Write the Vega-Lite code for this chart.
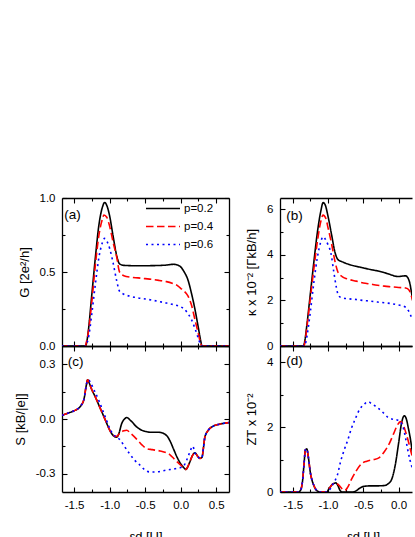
{
"$schema":"https://vega.github.io/schema/vega-lite/v6.json",
"background":"white",
"padding":{"top":192,"left":14,"right":0,"bottom":0},
"autosize":{"type":"pad"},
"datasets":{
"G":[
{"x":-1.67,"v":0,"p":"p=0.2"},{"x":-1.34,"v":0,"p":"p=0.2"},{"x":-1.32,"v":0.03,"p":"p=0.2"},{"x":-1.3,"v":0.1,"p":"p=0.2"},{"x":-1.25,"v":0.35,"p":"p=0.2"},{"x":-1.2,"v":0.6,"p":"p=0.2"},{"x":-1.15,"v":0.82,"p":"p=0.2"},{"x":-1.1,"v":0.94,"p":"p=0.2"},{"x":-1.07,"v":0.97,"p":"p=0.2"},{"x":-1.04,"v":0.95,"p":"p=0.2"},{"x":-1.0,"v":0.88,"p":"p=0.2"},{"x":-0.95,"v":0.74,"p":"p=0.2"},{"x":-0.9,"v":0.61,"p":"p=0.2"},{"x":-0.86,"v":0.555,"p":"p=0.2"},{"x":-0.8,"v":0.545,"p":"p=0.2"},{"x":-0.6,"v":0.542,"p":"p=0.2"},{"x":-0.4,"v":0.543,"p":"p=0.2"},{"x":-0.2,"v":0.547,"p":"p=0.2"},{"x":-0.1,"v":0.552,"p":"p=0.2"},{"x":-0.05,"v":0.548,"p":"p=0.2"},{"x":0,"v":0.535,"p":"p=0.2"},{"x":0.05,"v":0.5,"p":"p=0.2"},{"x":0.1,"v":0.45,"p":"p=0.2"},{"x":0.15,"v":0.36,"p":"p=0.2"},{"x":0.2,"v":0.25,"p":"p=0.2"},{"x":0.25,"v":0.12,"p":"p=0.2"},{"x":0.28,"v":0.04,"p":"p=0.2"},{"x":0.3,"v":0,"p":"p=0.2"},{"x":0.68,"v":0,"p":"p=0.2"},
{"x":-1.67,"v":0,"p":"p=0.4"},{"x":-1.34,"v":0,"p":"p=0.4"},{"x":-1.33,"v":0.02,"p":"p=0.4"},{"x":-1.3,"v":0.09,"p":"p=0.4"},{"x":-1.25,"v":0.3,"p":"p=0.4"},{"x":-1.2,"v":0.55,"p":"p=0.4"},{"x":-1.15,"v":0.75,"p":"p=0.4"},{"x":-1.1,"v":0.86,"p":"p=0.4"},{"x":-1.08,"v":0.885,"p":"p=0.4"},{"x":-1.04,"v":0.87,"p":"p=0.4"},{"x":-1.0,"v":0.81,"p":"p=0.4"},{"x":-0.95,"v":0.7,"p":"p=0.4"},{"x":-0.9,"v":0.6,"p":"p=0.4"},{"x":-0.86,"v":0.5,"p":"p=0.4"},{"x":-0.8,"v":0.475,"p":"p=0.4"},{"x":-0.7,"v":0.465,"p":"p=0.4"},{"x":-0.6,"v":0.46,"p":"p=0.4"},{"x":-0.5,"v":0.455,"p":"p=0.4"},{"x":-0.4,"v":0.45,"p":"p=0.4"},{"x":-0.3,"v":0.443,"p":"p=0.4"},{"x":-0.2,"v":0.435,"p":"p=0.4"},{"x":-0.1,"v":0.42,"p":"p=0.4"},{"x":-0.05,"v":0.41,"p":"p=0.4"},{"x":0,"v":0.39,"p":"p=0.4"},{"x":0.05,"v":0.37,"p":"p=0.4"},{"x":0.1,"v":0.34,"p":"p=0.4"},{"x":0.15,"v":0.28,"p":"p=0.4"},{"x":0.2,"v":0.18,"p":"p=0.4"},{"x":0.25,"v":0.08,"p":"p=0.4"},{"x":0.28,"v":0.02,"p":"p=0.4"},{"x":0.3,"v":0,"p":"p=0.4"},{"x":0.68,"v":0,"p":"p=0.4"},
{"x":-1.67,"v":0,"p":"p=0.6"},{"x":-1.34,"v":0,"p":"p=0.6"},{"x":-1.33,"v":0.01,"p":"p=0.6"},{"x":-1.3,"v":0.05,"p":"p=0.6"},{"x":-1.25,"v":0.22,"p":"p=0.6"},{"x":-1.2,"v":0.42,"p":"p=0.6"},{"x":-1.15,"v":0.6,"p":"p=0.6"},{"x":-1.1,"v":0.7,"p":"p=0.6"},{"x":-1.07,"v":0.727,"p":"p=0.6"},{"x":-1.03,"v":0.7,"p":"p=0.6"},{"x":-1.0,"v":0.66,"p":"p=0.6"},{"x":-0.95,"v":0.56,"p":"p=0.6"},{"x":-0.9,"v":0.44,"p":"p=0.6"},{"x":-0.86,"v":0.37,"p":"p=0.6"},{"x":-0.8,"v":0.35,"p":"p=0.6"},{"x":-0.7,"v":0.335,"p":"p=0.6"},{"x":-0.6,"v":0.325,"p":"p=0.6"},{"x":-0.5,"v":0.318,"p":"p=0.6"},{"x":-0.4,"v":0.31,"p":"p=0.6"},{"x":-0.3,"v":0.3,"p":"p=0.6"},{"x":-0.2,"v":0.29,"p":"p=0.6"},{"x":-0.1,"v":0.28,"p":"p=0.6"},{"x":0,"v":0.265,"p":"p=0.6"},{"x":0.05,"v":0.25,"p":"p=0.6"},{"x":0.1,"v":0.22,"p":"p=0.6"},{"x":0.15,"v":0.18,"p":"p=0.6"},{"x":0.2,"v":0.12,"p":"p=0.6"},{"x":0.25,"v":0.05,"p":"p=0.6"},{"x":0.28,"v":0.01,"p":"p=0.6"},{"x":0.3,"v":0,"p":"p=0.6"},{"x":0.68,"v":0,"p":"p=0.6"}
],
"K":[
{"x":-1.68,"v":0,"p":"p=0.2"},{"x":-1.35,"v":0,"p":"p=0.2"},{"x":-1.33,"v":0.2,"p":"p=0.2"},{"x":-1.3,"v":0.9,"p":"p=0.2"},{"x":-1.25,"v":2.3,"p":"p=0.2"},{"x":-1.2,"v":3.7,"p":"p=0.2"},{"x":-1.15,"v":5.0,"p":"p=0.2"},{"x":-1.1,"v":5.95,"p":"p=0.2"},{"x":-1.07,"v":6.3,"p":"p=0.2"},{"x":-1.04,"v":6.2,"p":"p=0.2"},{"x":-1.0,"v":5.7,"p":"p=0.2"},{"x":-0.95,"v":4.9,"p":"p=0.2"},{"x":-0.9,"v":4.1,"p":"p=0.2"},{"x":-0.86,"v":3.8,"p":"p=0.2"},{"x":-0.8,"v":3.7,"p":"p=0.2"},{"x":-0.7,"v":3.58,"p":"p=0.2"},{"x":-0.6,"v":3.5,"p":"p=0.2"},{"x":-0.5,"v":3.43,"p":"p=0.2"},{"x":-0.4,"v":3.36,"p":"p=0.2"},{"x":-0.3,"v":3.3,"p":"p=0.2"},{"x":-0.2,"v":3.22,"p":"p=0.2"},{"x":-0.1,"v":3.12,"p":"p=0.2"},{"x":-0.05,"v":3.07,"p":"p=0.2"},{"x":0,"v":3.05,"p":"p=0.2"},{"x":0.05,"v":3.07,"p":"p=0.2"},{"x":0.1,"v":3.08,"p":"p=0.2"},{"x":0.13,"v":3.0,"p":"p=0.2"},{"x":0.16,"v":2.75,"p":"p=0.2"},{"x":0.18,"v":2.4,"p":"p=0.2"},{"x":0.2,"v":2.0,"p":"p=0.2"},{"x":0.22,"v":1.6,"p":"p=0.2"},
{"x":-1.68,"v":0,"p":"p=0.4"},{"x":-1.35,"v":0,"p":"p=0.4"},{"x":-1.33,"v":0.1,"p":"p=0.4"},{"x":-1.3,"v":0.8,"p":"p=0.4"},{"x":-1.25,"v":2.1,"p":"p=0.4"},{"x":-1.2,"v":3.4,"p":"p=0.4"},{"x":-1.15,"v":4.6,"p":"p=0.4"},{"x":-1.1,"v":5.5,"p":"p=0.4"},{"x":-1.07,"v":5.75,"p":"p=0.4"},{"x":-1.03,"v":5.6,"p":"p=0.4"},{"x":-1.0,"v":5.2,"p":"p=0.4"},{"x":-0.95,"v":4.5,"p":"p=0.4"},{"x":-0.9,"v":3.7,"p":"p=0.4"},{"x":-0.86,"v":3.25,"p":"p=0.4"},{"x":-0.8,"v":3.05,"p":"p=0.4"},{"x":-0.73,"v":2.95,"p":"p=0.4"},{"x":-0.6,"v":2.85,"p":"p=0.4"},{"x":-0.5,"v":2.77,"p":"p=0.4"},{"x":-0.4,"v":2.72,"p":"p=0.4"},{"x":-0.3,"v":2.67,"p":"p=0.4"},{"x":-0.2,"v":2.63,"p":"p=0.4"},{"x":-0.1,"v":2.6,"p":"p=0.4"},{"x":0,"v":2.57,"p":"p=0.4"},{"x":0.1,"v":2.55,"p":"p=0.4"},{"x":0.15,"v":2.45,"p":"p=0.4"},{"x":0.18,"v":2.2,"p":"p=0.4"},{"x":0.2,"v":2.0,"p":"p=0.4"},{"x":0.22,"v":1.7,"p":"p=0.4"},
{"x":-1.68,"v":0,"p":"p=0.6"},{"x":-1.34,"v":0,"p":"p=0.6"},{"x":-1.32,"v":0.1,"p":"p=0.6"},{"x":-1.28,"v":0.8,"p":"p=0.6"},{"x":-1.25,"v":1.5,"p":"p=0.6"},{"x":-1.2,"v":2.8,"p":"p=0.6"},{"x":-1.15,"v":3.9,"p":"p=0.6"},{"x":-1.1,"v":4.6,"p":"p=0.6"},{"x":-1.07,"v":4.8,"p":"p=0.6"},{"x":-1.03,"v":4.65,"p":"p=0.6"},{"x":-1.0,"v":4.45,"p":"p=0.6"},{"x":-0.96,"v":4.1,"p":"p=0.6"},{"x":-0.92,"v":3.3,"p":"p=0.6"},{"x":-0.88,"v":2.55,"p":"p=0.6"},{"x":-0.85,"v":2.2,"p":"p=0.6"},{"x":-0.8,"v":2.12,"p":"p=0.6"},{"x":-0.7,"v":2.07,"p":"p=0.6"},{"x":-0.6,"v":2.04,"p":"p=0.6"},{"x":-0.5,"v":2.0,"p":"p=0.6"},{"x":-0.4,"v":1.97,"p":"p=0.6"},{"x":-0.3,"v":1.93,"p":"p=0.6"},{"x":-0.2,"v":1.9,"p":"p=0.6"},{"x":-0.1,"v":1.86,"p":"p=0.6"},{"x":0,"v":1.8,"p":"p=0.6"},{"x":0.06,"v":1.76,"p":"p=0.6"},{"x":0.1,"v":1.7,"p":"p=0.6"},{"x":0.14,"v":1.55,"p":"p=0.6"},{"x":0.17,"v":1.35,"p":"p=0.6"},{"x":0.2,"v":1.15,"p":"p=0.6"},{"x":0.22,"v":1.0,"p":"p=0.6"}
],
"S":[
{"x":-1.67,"v":0.02,"p":"p=0.2"},{"x":-1.6,"v":0.03,"p":"p=0.2"},{"x":-1.5,"v":0.045,"p":"p=0.2"},{"x":-1.45,"v":0.055,"p":"p=0.2"},{"x":-1.4,"v":0.075,"p":"p=0.2"},{"x":-1.36,"v":0.11,"p":"p=0.2"},{"x":-1.33,"v":0.18,"p":"p=0.2"},{"x":-1.31,"v":0.215,"p":"p=0.2"},{"x":-1.29,"v":0.2,"p":"p=0.2"},{"x":-1.25,"v":0.16,"p":"p=0.2"},{"x":-1.2,"v":0.12,"p":"p=0.2"},{"x":-1.15,"v":0.075,"p":"p=0.2"},{"x":-1.1,"v":0.03,"p":"p=0.2"},{"x":-1.05,"v":-0.015,"p":"p=0.2"},{"x":-1.0,"v":-0.06,"p":"p=0.2"},{"x":-0.95,"v":-0.09,"p":"p=0.2"},{"x":-0.9,"v":-0.1,"p":"p=0.2"},{"x":-0.87,"v":-0.08,"p":"p=0.2"},{"x":-0.83,"v":-0.025,"p":"p=0.2"},{"x":-0.79,"v":0.0,"p":"p=0.2"},{"x":-0.76,"v":0.008,"p":"p=0.2"},{"x":-0.7,"v":-0.01,"p":"p=0.2"},{"x":-0.62,"v":-0.043,"p":"p=0.2"},{"x":-0.5,"v":-0.068,"p":"p=0.2"},{"x":-0.4,"v":-0.073,"p":"p=0.2"},{"x":-0.3,"v":-0.073,"p":"p=0.2"},{"x":-0.2,"v":-0.09,"p":"p=0.2"},{"x":-0.15,"v":-0.12,"p":"p=0.2"},{"x":-0.1,"v":-0.165,"p":"p=0.2"},{"x":-0.05,"v":-0.21,"p":"p=0.2"},{"x":0,"v":-0.245,"p":"p=0.2"},{"x":0.04,"v":-0.265,"p":"p=0.2"},{"x":0.075,"v":-0.276,"p":"p=0.2"},{"x":0.1,"v":-0.262,"p":"p=0.2"},{"x":0.13,"v":-0.234,"p":"p=0.2"},{"x":0.17,"v":-0.197,"p":"p=0.2"},{"x":0.2,"v":-0.185,"p":"p=0.2"},{"x":0.24,"v":-0.205,"p":"p=0.2"},{"x":0.27,"v":-0.216,"p":"p=0.2"},{"x":0.3,"v":-0.21,"p":"p=0.2"},{"x":0.32,"v":-0.16,"p":"p=0.2"},{"x":0.34,"v":-0.1,"p":"p=0.2"},{"x":0.39,"v":-0.061,"p":"p=0.2"},{"x":0.46,"v":-0.039,"p":"p=0.2"},{"x":0.55,"v":-0.028,"p":"p=0.2"},{"x":0.68,"v":-0.02,"p":"p=0.2"},
{"x":-1.67,"v":0.02,"p":"p=0.4"},{"x":-1.6,"v":0.03,"p":"p=0.4"},{"x":-1.5,"v":0.045,"p":"p=0.4"},{"x":-1.45,"v":0.055,"p":"p=0.4"},{"x":-1.4,"v":0.075,"p":"p=0.4"},{"x":-1.36,"v":0.11,"p":"p=0.4"},{"x":-1.33,"v":0.18,"p":"p=0.4"},{"x":-1.31,"v":0.215,"p":"p=0.4"},{"x":-1.29,"v":0.2,"p":"p=0.4"},{"x":-1.25,"v":0.16,"p":"p=0.4"},{"x":-1.2,"v":0.12,"p":"p=0.4"},{"x":-1.15,"v":0.075,"p":"p=0.4"},{"x":-1.1,"v":0.03,"p":"p=0.4"},{"x":-1.05,"v":-0.015,"p":"p=0.4"},{"x":-1.0,"v":-0.06,"p":"p=0.4"},{"x":-0.95,"v":-0.09,"p":"p=0.4"},{"x":-0.9,"v":-0.095,"p":"p=0.4"},{"x":-0.85,"v":-0.075,"p":"p=0.4"},{"x":-0.8,"v":-0.065,"p":"p=0.4"},{"x":-0.76,"v":-0.062,"p":"p=0.4"},{"x":-0.7,"v":-0.08,"p":"p=0.4"},{"x":-0.62,"v":-0.11,"p":"p=0.4"},{"x":-0.55,"v":-0.14,"p":"p=0.4"},{"x":-0.48,"v":-0.162,"p":"p=0.4"},{"x":-0.4,"v":-0.168,"p":"p=0.4"},{"x":-0.29,"v":-0.175,"p":"p=0.4"},{"x":-0.2,"v":-0.185,"p":"p=0.4"},{"x":-0.15,"v":-0.196,"p":"p=0.4"},{"x":-0.1,"v":-0.215,"p":"p=0.4"},{"x":-0.05,"v":-0.235,"p":"p=0.4"},{"x":0,"v":-0.252,"p":"p=0.4"},{"x":0.04,"v":-0.266,"p":"p=0.4"},{"x":0.075,"v":-0.276,"p":"p=0.4"},{"x":0.1,"v":-0.262,"p":"p=0.4"},{"x":0.13,"v":-0.234,"p":"p=0.4"},{"x":0.17,"v":-0.197,"p":"p=0.4"},{"x":0.2,"v":-0.185,"p":"p=0.4"},{"x":0.24,"v":-0.205,"p":"p=0.4"},{"x":0.27,"v":-0.216,"p":"p=0.4"},{"x":0.3,"v":-0.21,"p":"p=0.4"},{"x":0.32,"v":-0.16,"p":"p=0.4"},{"x":0.34,"v":-0.1,"p":"p=0.4"},{"x":0.39,"v":-0.061,"p":"p=0.4"},{"x":0.46,"v":-0.039,"p":"p=0.4"},{"x":0.55,"v":-0.028,"p":"p=0.4"},{"x":0.68,"v":-0.02,"p":"p=0.4"},
{"x":-1.67,"v":0.02,"p":"p=0.6"},{"x":-1.6,"v":0.03,"p":"p=0.6"},{"x":-1.5,"v":0.045,"p":"p=0.6"},{"x":-1.45,"v":0.055,"p":"p=0.6"},{"x":-1.4,"v":0.075,"p":"p=0.6"},{"x":-1.36,"v":0.11,"p":"p=0.6"},{"x":-1.33,"v":0.18,"p":"p=0.6"},{"x":-1.31,"v":0.212,"p":"p=0.6"},{"x":-1.29,"v":0.212,"p":"p=0.6"},{"x":-1.27,"v":0.2,"p":"p=0.6"},{"x":-1.22,"v":0.16,"p":"p=0.6"},{"x":-1.15,"v":0.1,"p":"p=0.6"},{"x":-1.1,"v":0.05,"p":"p=0.6"},{"x":-1.05,"v":0.0,"p":"p=0.6"},{"x":-1.0,"v":-0.05,"p":"p=0.6"},{"x":-0.95,"v":-0.085,"p":"p=0.6"},{"x":-0.9,"v":-0.1,"p":"p=0.6"},{"x":-0.85,"v":-0.115,"p":"p=0.6"},{"x":-0.8,"v":-0.145,"p":"p=0.6"},{"x":-0.72,"v":-0.19,"p":"p=0.6"},{"x":-0.65,"v":-0.225,"p":"p=0.6"},{"x":-0.58,"v":-0.25,"p":"p=0.6"},{"x":-0.5,"v":-0.28,"p":"p=0.6"},{"x":-0.44,"v":-0.29,"p":"p=0.6"},{"x":-0.35,"v":-0.29,"p":"p=0.6"},{"x":-0.2,"v":-0.28,"p":"p=0.6"},{"x":-0.06,"v":-0.271,"p":"p=0.6"},{"x":0.03,"v":-0.262,"p":"p=0.6"},{"x":0.085,"v":-0.225,"p":"p=0.6"},{"x":0.13,"v":-0.18,"p":"p=0.6"},{"x":0.17,"v":-0.149,"p":"p=0.6"},{"x":0.2,"v":-0.185,"p":"p=0.6"},{"x":0.24,"v":-0.205,"p":"p=0.6"},{"x":0.27,"v":-0.216,"p":"p=0.6"},{"x":0.3,"v":-0.21,"p":"p=0.6"},{"x":0.32,"v":-0.16,"p":"p=0.6"},{"x":0.34,"v":-0.1,"p":"p=0.6"},{"x":0.39,"v":-0.061,"p":"p=0.6"},{"x":0.46,"v":-0.039,"p":"p=0.6"},{"x":0.55,"v":-0.028,"p":"p=0.6"},{"x":0.68,"v":-0.02,"p":"p=0.6"}
],
"Z":[
{"x":-1.68,"v":0,"p":"p=0.2"},{"x":-1.42,"v":0,"p":"p=0.2"},{"x":-1.39,"v":0.05,"p":"p=0.2"},{"x":-1.36,"v":0.35,"p":"p=0.2"},{"x":-1.34,"v":0.85,"p":"p=0.2"},{"x":-1.32,"v":1.3,"p":"p=0.2"},{"x":-1.3,"v":1.33,"p":"p=0.2"},{"x":-1.28,"v":1.1,"p":"p=0.2"},{"x":-1.25,"v":0.6,"p":"p=0.2"},{"x":-1.2,"v":0.2,"p":"p=0.2"},{"x":-1.15,"v":0.03,"p":"p=0.2"},{"x":-1.1,"v":0,"p":"p=0.2"},{"x":-1.02,"v":0,"p":"p=0.2"},{"x":-0.98,"v":0.12,"p":"p=0.2"},{"x":-0.93,"v":0.25,"p":"p=0.2"},{"x":-0.89,"v":0.28,"p":"p=0.2"},{"x":-0.86,"v":0.2,"p":"p=0.2"},{"x":-0.83,"v":0.05,"p":"p=0.2"},{"x":-0.8,"v":0,"p":"p=0.2"},{"x":-0.65,"v":0,"p":"p=0.2"},{"x":-0.6,"v":0.04,"p":"p=0.2"},{"x":-0.55,"v":0.12,"p":"p=0.2"},{"x":-0.5,"v":0.17,"p":"p=0.2"},{"x":-0.4,"v":0.19,"p":"p=0.2"},{"x":-0.3,"v":0.19,"p":"p=0.2"},{"x":-0.2,"v":0.2,"p":"p=0.2"},{"x":-0.15,"v":0.25,"p":"p=0.2"},{"x":-0.1,"v":0.38,"p":"p=0.2"},{"x":-0.05,"v":0.8,"p":"p=0.2"},{"x":0,"v":1.5,"p":"p=0.2"},{"x":0.04,"v":2.1,"p":"p=0.2"},{"x":0.08,"v":2.35,"p":"p=0.2"},{"x":0.11,"v":2.25,"p":"p=0.2"},{"x":0.14,"v":1.95,"p":"p=0.2"},{"x":0.17,"v":1.6,"p":"p=0.2"},{"x":0.19,"v":1.3,"p":"p=0.2"},{"x":0.22,"v":0.9,"p":"p=0.2"},
{"x":-1.68,"v":0,"p":"p=0.4"},{"x":-1.42,"v":0,"p":"p=0.4"},{"x":-1.39,"v":0.05,"p":"p=0.4"},{"x":-1.36,"v":0.35,"p":"p=0.4"},{"x":-1.34,"v":0.85,"p":"p=0.4"},{"x":-1.32,"v":1.3,"p":"p=0.4"},{"x":-1.3,"v":1.33,"p":"p=0.4"},{"x":-1.28,"v":1.1,"p":"p=0.4"},{"x":-1.25,"v":0.6,"p":"p=0.4"},{"x":-1.2,"v":0.2,"p":"p=0.4"},{"x":-1.15,"v":0.03,"p":"p=0.4"},{"x":-1.1,"v":0,"p":"p=0.4"},{"x":-1.02,"v":0,"p":"p=0.4"},{"x":-0.98,"v":0.12,"p":"p=0.4"},{"x":-0.93,"v":0.25,"p":"p=0.4"},{"x":-0.89,"v":0.28,"p":"p=0.4"},{"x":-0.85,"v":0.22,"p":"p=0.4"},{"x":-0.8,"v":0.1,"p":"p=0.4"},{"x":-0.76,"v":0.05,"p":"p=0.4"},{"x":-0.72,"v":0.15,"p":"p=0.4"},{"x":-0.67,"v":0.38,"p":"p=0.4"},{"x":-0.6,"v":0.65,"p":"p=0.4"},{"x":-0.52,"v":0.88,"p":"p=0.4"},{"x":-0.45,"v":0.95,"p":"p=0.4"},{"x":-0.35,"v":1.0,"p":"p=0.4"},{"x":-0.28,"v":1.05,"p":"p=0.4"},{"x":-0.2,"v":1.25,"p":"p=0.4"},{"x":-0.13,"v":1.5,"p":"p=0.4"},{"x":-0.07,"v":1.8,"p":"p=0.4"},{"x":-0.02,"v":2.05,"p":"p=0.4"},{"x":0.03,"v":2.17,"p":"p=0.4"},{"x":0.06,"v":2.1,"p":"p=0.4"},{"x":0.1,"v":1.85,"p":"p=0.4"},{"x":0.14,"v":1.55,"p":"p=0.4"},{"x":0.18,"v":1.2,"p":"p=0.4"},{"x":0.22,"v":0.95,"p":"p=0.4"},
{"x":-1.68,"v":0,"p":"p=0.6"},{"x":-1.42,"v":0,"p":"p=0.6"},{"x":-1.39,"v":0.05,"p":"p=0.6"},{"x":-1.36,"v":0.35,"p":"p=0.6"},{"x":-1.34,"v":0.85,"p":"p=0.6"},{"x":-1.32,"v":1.3,"p":"p=0.6"},{"x":-1.3,"v":1.33,"p":"p=0.6"},{"x":-1.28,"v":1.1,"p":"p=0.6"},{"x":-1.25,"v":0.6,"p":"p=0.6"},{"x":-1.2,"v":0.2,"p":"p=0.6"},{"x":-1.15,"v":0.03,"p":"p=0.6"},{"x":-1.1,"v":0,"p":"p=0.6"},{"x":-1.02,"v":0,"p":"p=0.6"},{"x":-0.96,"v":0.12,"p":"p=0.6"},{"x":-0.92,"v":0.28,"p":"p=0.6"},{"x":-0.87,"v":0.5,"p":"p=0.6"},{"x":-0.82,"v":0.95,"p":"p=0.6"},{"x":-0.77,"v":1.3,"p":"p=0.6"},{"x":-0.72,"v":1.6,"p":"p=0.6"},{"x":-0.67,"v":1.95,"p":"p=0.6"},{"x":-0.62,"v":2.22,"p":"p=0.6"},{"x":-0.55,"v":2.55,"p":"p=0.6"},{"x":-0.48,"v":2.72,"p":"p=0.6"},{"x":-0.43,"v":2.78,"p":"p=0.6"},{"x":-0.38,"v":2.72,"p":"p=0.6"},{"x":-0.3,"v":2.6,"p":"p=0.6"},{"x":-0.22,"v":2.45,"p":"p=0.6"},{"x":-0.15,"v":2.3,"p":"p=0.6"},{"x":-0.08,"v":2.24,"p":"p=0.6"},{"x":-0.02,"v":2.22,"p":"p=0.6"},{"x":0.03,"v":2.15,"p":"p=0.6"},{"x":0.07,"v":1.95,"p":"p=0.6"},{"x":0.1,"v":1.65,"p":"p=0.6"},{"x":0.13,"v":1.3,"p":"p=0.6"},{"x":0.16,"v":1.0,"p":"p=0.6"},{"x":0.19,"v":0.78,"p":"p=0.6"},{"x":0.22,"v":0.75,"p":"p=0.6"}
]
},
"columns":2,
"spacing":{"row":0,"column":51},
"bounds":"flush",
"resolve":{"legend":{"color":"independent","strokeDash":"independent"}},
"concat":[
{
"width":167,"height":148,
"data":{"name":"G"},
"layer":[
{"mark":{"type":"line","strokeWidth":1.6,"clip":true,"interpolate":"monotone"},
"encoding":{
"x":{"field":"x","type":"quantitative","scale":{"domain":[-1.67,0.68],"nice":false,"zero":false},
"axis":{"orient":"bottom","values":[-1.5,-1.25,-1,-0.75,-0.5,-0.25,0,0.25,0.5],"labels":false,"title":null,"tickSize":{"condition":{"test":"abs(datum.value*2-round(datum.value*2))<0.01","value":-5},"value":-3}}},
"y":{"field":"v","type":"quantitative","scale":{"domain":[0,1],"nice":false,"zero":false},
"axis":{"orient":"left","values":[0,0.25,0.5,0.75,1],"title":"G [2e²/h]","labelExpr":"abs(datum.value*2-round(datum.value*2))<0.01 ? format(datum.value,'.1f') : ''","tickSize":{"condition":{"test":"abs(datum.value*2-round(datum.value*2))<0.01","value":-5},"value":-3}}},
"color":{"field":"p","type":"nominal","scale":{"domain":["p=0.2","p=0.4","p=0.6"],"range":["#000000","#ff0000","#0000ff"]},
"legend":{"orient":"none","legendX":83,"legendY":4,"title":null,"symbolType":"stroke","symbolSize":1156,"symbolStrokeWidth":1.6,"clipHeight":13,"rowPadding":5,"labelOffset":3,"labelFontSize":11.5,"padding":0}},
"strokeDash":{"field":"p","type":"nominal","scale":{"domain":["p=0.2","p=0.4","p=0.6"],"range":[[1,0],[7.5,3.5],[2,3.5]]},
"legend":{"orient":"none","legendX":83,"legendY":4,"title":null,"symbolType":"stroke","symbolSize":1156,"symbolStrokeWidth":1.6,"clipHeight":13,"rowPadding":5,"labelOffset":3,"labelFontSize":11.5,"padding":0}}
}},
{"mark":{"type":"line","opacity":0},
"encoding":{
"x":{"field":"x","type":"quantitative","axis":{"orient":"top","values":[-1.5,-1.25,-1,-0.75,-0.5,-0.25,0,0.25,0.5],"labels":false,"title":null,"tickSize":{"condition":{"test":"abs(datum.value*2-round(datum.value*2))<0.01","value":-5},"value":-3}}},
"y":{"field":"v","type":"quantitative","axis":{"orient":"right","values":[0,0.25,0.5,0.75,1],"labels":false,"title":null,"tickSize":{"condition":{"test":"abs(datum.value*2-round(datum.value*2))<0.01","value":-5},"value":-3}}},
"detail":{"field":"p"}}},
{"data":{"values":[{"x":-1.64,"v":0.885,"t":"(a)"}]},
"mark":{"type":"text","align":"left","baseline":"middle","fontSize":13.5},
"encoding":{"x":{"field":"x","type":"quantitative","axis":null},"y":{"field":"v","type":"quantitative","axis":null},"text":{"field":"t"}}}
],
"resolve":{"axis":{"x":"independent","y":"independent"}}
},
{
"width":132,"height":148,
"data":{"name":"K"},
"layer":[
{"mark":{"type":"line","strokeWidth":1.6,"clip":true,"interpolate":"monotone"},
"encoding":{
"x":{"field":"x","type":"quantitative","scale":{"domain":[-1.68,0.19],"nice":false,"zero":false},
"axis":{"orient":"bottom","values":[-1.5,-1.25,-1,-0.75,-0.5,-0.25,0],"labels":false,"title":null,"tickSize":{"condition":{"test":"abs(datum.value*2-round(datum.value*2))<0.01","value":-5},"value":-3}}},
"y":{"field":"v","type":"quantitative","scale":{"domain":[0,6.5],"nice":false,"zero":false},
"axis":{"orient":"left","values":[0,1,2,3,4,5,6],"title":"κ x 10⁻² [ΓkB/h]","labelExpr":"datum.value%2==0 ? format(datum.value,'d') : ''","tickSize":{"condition":{"test":"datum.value%2==0","value":-5},"value":-3}}},
"color":{"field":"p","type":"nominal","scale":{"domain":["p=0.2","p=0.4","p=0.6"],"range":["#000000","#ff0000","#0000ff"]},"legend":null},
"strokeDash":{"field":"p","type":"nominal","scale":{"domain":["p=0.2","p=0.4","p=0.6"],"range":[[1,0],[7.5,3.5],[2,3.5]]},"legend":null}
}},
{"mark":{"type":"line","opacity":0},
"encoding":{
"x":{"field":"x","type":"quantitative","axis":{"orient":"top","values":[-1.5,-1.25,-1,-0.75,-0.5,-0.25,0],"labels":false,"title":null,"tickSize":{"condition":{"test":"abs(datum.value*2-round(datum.value*2))<0.01","value":-5},"value":-3}}},
"y":{"field":"v","type":"quantitative","axis":null},
"detail":{"field":"p"}}},
{"data":{"values":[{"x":-1.59,"v":5.72,"t":"(b)"}]},
"mark":{"type":"text","align":"left","baseline":"middle","fontSize":13.5},
"encoding":{"x":{"field":"x","type":"quantitative","axis":null},"y":{"field":"v","type":"quantitative","axis":null},"text":{"field":"t"}}}
],
"resolve":{"axis":{"x":"independent","y":"independent"}}
},
{
"width":167,"height":146,
"data":{"name":"S"},
"layer":[
{"mark":{"type":"line","strokeWidth":1.6,"clip":true,"interpolate":"monotone"},
"encoding":{
"x":{"field":"x","type":"quantitative","scale":{"domain":[-1.67,0.68],"nice":false,"zero":false},
"axis":{"orient":"bottom","values":[-1.5,-1.25,-1,-0.75,-0.5,-0.25,0,0.25,0.5],"title":"εd [U]","titlePadding":18,"labelExpr":"abs(datum.value*2-round(datum.value*2))<0.01 ? replace(format(datum.value,'.1f'),'−','-') : ''","tickSize":{"condition":{"test":"abs(datum.value*2-round(datum.value*2))<0.01","value":-5},"value":-3}}},
"y":{"field":"v","type":"quantitative","scale":{"domain":[-0.4,0.4],"nice":false,"zero":false},
"axis":{"orient":"left","values":[-0.3,-0.15,0,0.15,0.3],"title":"S [kB/|e|]","labelExpr":"abs(datum.value/0.3-round(datum.value/0.3))<0.01 ? replace(format(datum.value,'.1f'),'−','-') : ''","tickSize":{"condition":{"test":"abs(datum.value/0.3-round(datum.value/0.3))<0.01","value":-5},"value":-3}}},
"color":{"field":"p","type":"nominal","scale":{"domain":["p=0.2","p=0.4","p=0.6"],"range":["#000000","#ff0000","#0000ff"]},"legend":null},
"strokeDash":{"field":"p","type":"nominal","scale":{"domain":["p=0.2","p=0.4","p=0.6"],"range":[[1,0],[7.5,3.5],[2,3.5]]},"legend":null}
}},
{"mark":{"type":"line","opacity":0},
"encoding":{
"x":{"field":"x","type":"quantitative","axis":{"orient":"top","values":[-1.5,-1.25,-1,-0.75,-0.5,-0.25,0,0.25,0.5],"labels":false,"title":null,"tickSize":{"condition":{"test":"abs(datum.value*2-round(datum.value*2))<0.01","value":-5},"value":-3}}},
"y":{"field":"v","type":"quantitative","axis":{"orient":"right","values":[-0.3,-0.15,0,0.15,0.3],"labels":false,"title":null,"tickSize":{"condition":{"test":"abs(datum.value/0.3-round(datum.value/0.3))<0.01","value":-5},"value":-3}}},
"detail":{"field":"p"}}},
{"data":{"values":[{"x":-1.59,"v":0.31,"t":"(c)"}]},
"mark":{"type":"text","align":"left","baseline":"middle","fontSize":13.5},
"encoding":{"x":{"field":"x","type":"quantitative","axis":null},"y":{"field":"v","type":"quantitative","axis":null},"text":{"field":"t"}}}
],
"resolve":{"axis":{"x":"independent","y":"independent"}}
},
{
"width":132,"height":146,
"data":{"name":"Z"},
"layer":[
{"mark":{"type":"line","strokeWidth":1.6,"clip":true,"interpolate":"monotone"},
"encoding":{
"x":{"field":"x","type":"quantitative","scale":{"domain":[-1.68,0.19],"nice":false,"zero":false},
"axis":{"orient":"bottom","values":[-1.5,-1.25,-1,-0.75,-0.5,-0.25,0],"title":"εd [U]","titlePadding":18,"titleX":83,"labelExpr":"abs(datum.value*2-round(datum.value*2))<0.01 ? replace(format(datum.value,'.1f'),'−','-') : ''","tickSize":{"condition":{"test":"abs(datum.value*2-round(datum.value*2))<0.01","value":-5},"value":-3}}},
"y":{"field":"v","type":"quantitative","scale":{"domain":[0,4.5],"nice":false,"zero":false},
"axis":{"orient":"left","values":[0,1,2,3,4],"title":"ZT x 10⁻²","labelExpr":"datum.value%2==0 ? format(datum.value,'d') : ''","tickSize":{"condition":{"test":"datum.value%2==0","value":-5},"value":-3}}},
"color":{"field":"p","type":"nominal","scale":{"domain":["p=0.2","p=0.4","p=0.6"],"range":["#000000","#ff0000","#0000ff"]},"legend":null},
"strokeDash":{"field":"p","type":"nominal","scale":{"domain":["p=0.2","p=0.4","p=0.6"],"range":[[1,0],[7.5,3.5],[2,3.5]]},"legend":null}
}},
{"mark":{"type":"line","opacity":0},
"encoding":{
"x":{"field":"x","type":"quantitative","axis":{"orient":"top","values":[-1.5,-1.25,-1,-0.75,-0.5,-0.25,0],"labels":false,"title":null,"tickSize":{"condition":{"test":"abs(datum.value*2-round(datum.value*2))<0.01","value":-5},"value":-3}}},
"y":{"field":"v","type":"quantitative","axis":null},
"detail":{"field":"p"}}},
{"data":{"values":[{"x":-1.59,"v":4.03,"t":"(d)"}]},
"mark":{"type":"text","align":"left","baseline":"middle","fontSize":13.5},
"encoding":{"x":{"field":"x","type":"quantitative","axis":null},"y":{"field":"v","type":"quantitative","axis":null},"text":{"field":"t"}}}
],
"resolve":{"axis":{"x":"independent","y":"independent"}}
}
],
"config":{
"font":"Liberation Sans",
"view":{"stroke":null},
"axis":{"labelFont":"Liberation Sans","titleFont":"Liberation Sans","labelFontSize":11.5,"titleFontSize":13,"titleFontWeight":"normal","labelColor":"#000000","titleColor":"#000000","domainColor":"#000000","tickColor":"#000000","domainWidth":1.3,"tickWidth":1.1,"grid":false,"labelFlush":false,"labelOverlap":false,"labelPadding":12,"titlePadding":8},
"legend":{"labelFont":"Liberation Sans","labelColor":"#000000"},
"text":{"font":"Liberation Sans","color":"#000000"}
}
}
